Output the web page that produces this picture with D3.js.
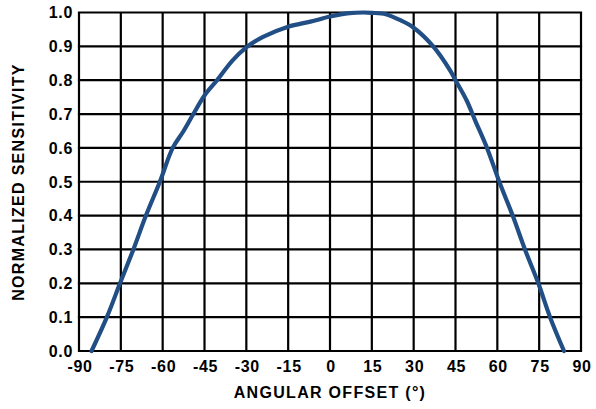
<!DOCTYPE html>
<html>
<head>
<meta charset="utf-8">
<script src="https://cdn.jsdelivr.net/npm/d3@7"></script>
<style>
  body { margin: 0; background: #fff; }
  text { font-family: "Liberation Sans", Arial, sans-serif; font-weight: bold; fill: #000; }
</style>
</head>
<body>
<div id="chart"></div>
<script>
// values
const angles = [-85.5, -80, -75.3, -70.5, -66, -61, -56.4, -52.5, -49, -45, -40.5, -35, -30, -24, -15, -7, 0, 7, 12, 15, 20, 25, 30, 37, 43, 45, 49, 52.1, 56.3, 60.7, 65.5, 69.9, 74.7, 78.9, 83.9];
const sensitivity = [0, 0.1, 0.2, 0.3, 0.4, 0.5, 0.6, 0.65, 0.7, 0.755, 0.8, 0.858, 0.897, 0.928, 0.958, 0.973, 0.988, 0.998, 1.0, 0.999, 0.995, 0.978, 0.955, 0.9, 0.83, 0.8, 0.74, 0.68, 0.6, 0.5, 0.4, 0.3, 0.2, 0.1, 0];
const xTicks = [-90, -75, -60, -45, -30, -15, 0, 15, 30, 45, 60, 75, 90];
const yTicks = [0, 0.1, 0.2, 0.3, 0.4, 0.5, 0.6, 0.7, 0.8, 0.9, 1.0];

const width = 596;
const height = 409;
const margin = {top: 12.5, right: 15, bottom: 58, left: 79};

const x = d3.scaleLinear().domain([-90, 90]).range([margin.left, width - margin.right]);
const y = d3.scaleLinear().domain([0, 1]).range([height - margin.bottom, margin.top]);

const svg = d3.select('#chart').append('svg')
    .attr('width', width)
    .attr('height', height);

// grid
svg.append('g')
    .selectAll('line')
    .data(xTicks)
    .join('line')
    .attr('x1', d => x(d)).attr('x2', d => x(d))
    .attr('y1', y(0)).attr('y2', y(1))
    .attr('stroke', '#000').attr('stroke-width', 2.2);

svg.append('g')
    .selectAll('line')
    .data(yTicks)
    .join('line')
    .attr('x1', x(-90) - 1.1).attr('x2', x(90) + 1.1)
    .attr('y1', d => y(d)).attr('y2', d => y(d))
    .attr('stroke', '#000').attr('stroke-width', 2.2);

// tick labels
svg.append('g')
    .selectAll('text')
    .data(yTicks)
    .join('text')
    .attr('x', x(-90) - 6)
    .attr('y', d => y(d) + 5.8)
    .attr('text-anchor', 'end')
    .attr('font-size', 16)
    .attr('letter-spacing', 0.7)
    .text(d => d.toFixed(1));

svg.append('g')
    .selectAll('text')
    .data(xTicks)
    .join('text')
    .attr('x', d => x(d) + 1)
    .attr('y', y(0) + 20.5)
    .attr('text-anchor', 'middle')
    .attr('font-size', 16)
    .attr('letter-spacing', 0.7)
    .text(d => d);

// axis titles
svg.append('text')
    .attr('x', 330)
    .attr('y', 398)
    .attr('text-anchor', 'middle')
    .attr('font-size', 16)
    .attr('letter-spacing', 1.3)
    .text('ANGULAR OFFSET (°)');

svg.append('text')
    .attr('transform', `translate(24, ${182}) rotate(-90)`)
    .attr('text-anchor', 'middle')
    .attr('font-size', 16)
    .attr('letter-spacing', 1.3)
    .text('NORMALIZED SENSITIVITY');

// curve
const line = d3.line()
    .x((d, i) => x(angles[i]))
    .y(d => y(d))
    .curve(d3.curveCatmullRom.alpha(0.5));

svg.append('path')
    .datum(sensitivity)
    .attr('d', line)
    .attr('fill', 'none')
    .attr('stroke', '#214e84')
    .attr('stroke-width', 4.2)
    .attr('stroke-linecap', 'round')
    .attr('stroke-linejoin', 'round');
</script>
</body>
</html>
